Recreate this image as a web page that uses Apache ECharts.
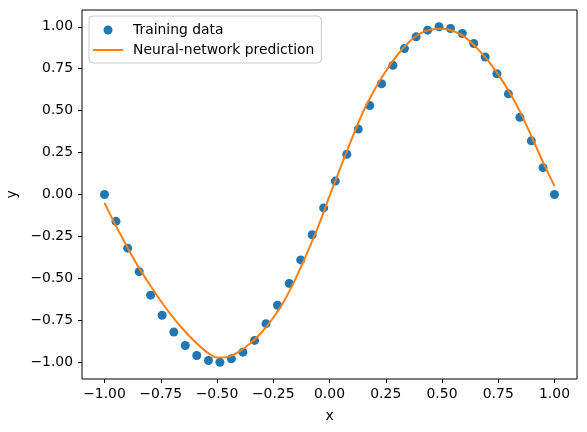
<!DOCTYPE html>
<html>
<head>
<meta charset="utf-8">
<script src="https://cdn.jsdelivr.net/npm/echarts@6/dist/echarts.min.js"></script>
<style>
  html, body { margin: 0; padding: 0; background: #fff; }
  #chart { width: 587px; height: 432px; }
</style>
</head>
<body>
<div id="chart"></div>
<script>
// training points (x, y)
var trainX = [
  -1.000, -0.949, -0.897, -0.846, -0.795, -0.744, -0.692, -0.641, -0.590, -0.538,
  -0.487, -0.436, -0.385, -0.333, -0.282, -0.231, -0.179, -0.128, -0.077, -0.026,
   0.026,  0.077,  0.128,  0.179,  0.231,  0.282,  0.333,  0.385,  0.436,  0.487,
   0.538,  0.590,  0.641,  0.692,  0.744,  0.795,  0.846,  0.897,  0.949,  1.000
];
var trainY = [
   0.00, -0.16, -0.32, -0.46, -0.60, -0.72, -0.82, -0.90, -0.96, -0.99,
  -1.00, -0.98, -0.94, -0.87, -0.77, -0.66, -0.53, -0.39, -0.24, -0.08,
   0.08,  0.24,  0.39,  0.53,  0.66,  0.77,  0.87,  0.94,  0.98,  1.00,
   0.99,  0.96,  0.90,  0.82,  0.72,  0.60,  0.46,  0.32,  0.16,  0.00
];

// network prediction (x, y)
var predX = [
  -1.00, -0.95, -0.90, -0.85, -0.80, -0.75, -0.70, -0.65, -0.60, -0.55,
  -0.50, -0.45, -0.40, -0.35, -0.30, -0.25, -0.20, -0.15, -0.10, -0.05,
   0.00,  0.05,  0.10,  0.15,  0.20,  0.25,  0.30,  0.35,  0.40,  0.45,
   0.50,  0.55,  0.60,  0.65,  0.70,  0.75,  0.80,  0.85,  0.90,  0.95, 1.00
];
var predY = [
  -0.05, -0.185, -0.31, -0.43, -0.535, -0.635, -0.725, -0.805, -0.875, -0.935,
  -0.972, -0.968, -0.935, -0.885, -0.82, -0.735, -0.63, -0.50, -0.35, -0.19,
  -0.01,  0.165,  0.335, 0.495, 0.625, 0.735, 0.83,  0.905, 0.958, 0.983,
   0.988, 0.975, 0.94,  0.88,  0.805, 0.715, 0.61,  0.485, 0.34,  0.19, 0.05
];

// tick positions
var xTicks = [-1, -0.75, -0.5, -0.25, 0, 0.25, 0.5, 0.75, 1];
var yTicks = [-1, -0.75, -0.5, -0.25, 0, 0.25, 0.5, 0.75, 1];

var pair = function (xs, ys) {
  var out = [], i;
  for (i = 0; i < xs.length; i++) out.push([xs[i], ys[i]]);
  return out;
};

// matplotlib style tick text
var fmt = function (v) {
  var s = Math.abs(v).toFixed(2);
  return v < 0 ? '\u2212' + s : s;
};

var font = 'DejaVu Sans';
var size = 13.9;

var axisCommon = {
  min: -1.1,
  max: 1.1,
  axisLine: { show: false, onZero: false },
  splitLine: { show: false },
  axisTick: { show: true, inside: false, length: 4, lineStyle: { color: '#000', width: 1 } },
  nameLocation: 'middle',
  nameTextStyle: { fontFamily: font, fontSize: size, color: '#000' }
};

var chart = echarts.init(document.getElementById('chart'), null, { renderer: 'canvas' });

chart.setOption({
  backgroundColor: '#fff',
  animation: false,
  grid: {
    left: 82, top: 10, width: 495, height: 369,
    containLabel: false,
    outerBoundsMode: 'none',
    show: true, borderColor: '#000', borderWidth: 1, backgroundColor: 'transparent'
  },
  xAxis: Object.assign({}, axisCommon, {
    type: 'value',
    name: 'x',
    nameGap: 30,
    axisTick: Object.assign({}, axisCommon.axisTick, { customValues: xTicks }),
    axisLabel: {
      customValues: xTicks, formatter: fmt, margin: 8,
      fontFamily: font, fontSize: size, color: '#000'
    }
  }),
  yAxis: Object.assign({}, axisCommon, {
    type: 'value',
    name: 'y',
    nameGap: 57,
    axisTick: Object.assign({}, axisCommon.axisTick, { customValues: yTicks }),
    axisLabel: {
      customValues: yTicks, formatter: fmt, margin: 9,
      fontFamily: font, fontSize: size, color: '#000'
    }
  }),
  legend: {
    orient: 'vertical',
    left: 89,
    top: 16,
    padding: [7, 7, 6, 3],
    itemWidth: 30,
    itemHeight: 9,
    itemGap: 6,
    borderColor: '#cccccc',
    borderWidth: 1,
    borderRadius: 4,
    backgroundColor: 'rgba(255,255,255,0.8)',
    textStyle: { fontFamily: font, fontSize: size, color: '#000', padding: [0, 0, 0, 5] },
    data: [
      { name: 'Training data', icon: 'circle' },
      { name: 'Neural-network prediction', itemStyle: { opacity: 0 } }
    ]
  },
  series: [
    {
      name: 'Training data',
      type: 'scatter',
      data: pair(trainX, trainY),
      symbol: 'circle',
      symbolSize: 9,
      itemStyle: { color: '#1f77b4', opacity: 1 },
      z: 2
    },
    {
      name: 'Neural-network prediction',
      type: 'line',
      data: pair(predX, predY),
      symbol: 'none',
      smooth: 0.3,
      lineStyle: { color: '#ff7f0e', width: 2 },
      itemStyle: { color: '#ff7f0e' },
      z: 3
    }
  ]
});
</script>
</body>
</html>
